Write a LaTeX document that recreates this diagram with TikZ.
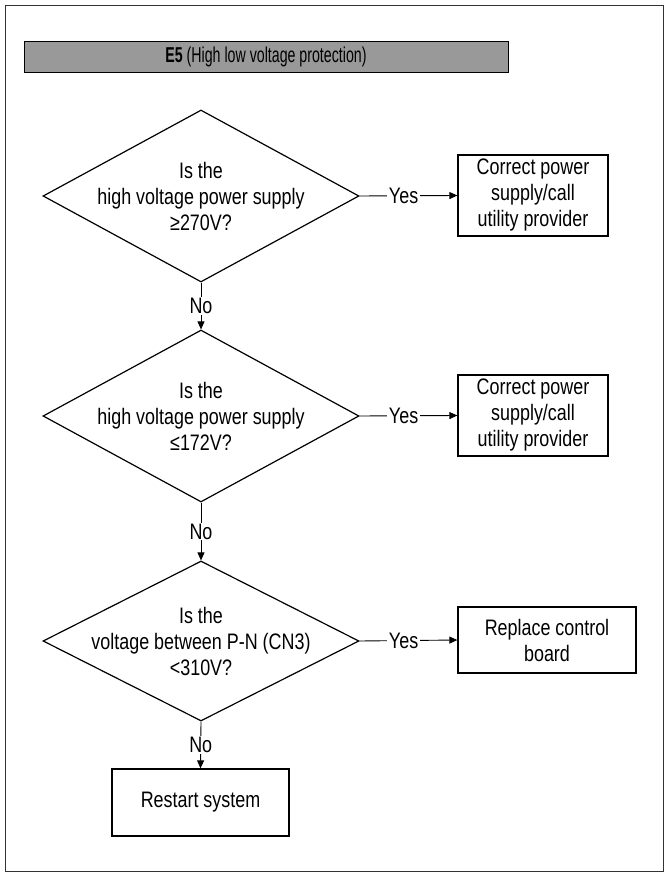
\documentclass[tikz,border=0pt]{standalone}
\usepackage{fontspec}
\setmainfont{Liberation Sans}[FakeStretch=0.8]
\newfontfamily\titlefont{Liberation Sans}[FakeStretch=0.66]
\usetikzlibrary{shapes.geometric,arrows.meta}
\begin{document}
\begin{tikzpicture}[x=1pt,y=-1pt,
  dia/.style={diamond,draw,line width=1.2pt,inner sep=0pt,minimum width=316pt,minimum height=172pt},
  dtext/.style={align=center,font=\fontsize{22.4}{26}\selectfont,inner sep=0pt},
  actbox/.style={draw,line width=1.3pt,align=center,font=\fontsize{22.4}{26}\selectfont,inner sep=0pt},
  lbl/.style={fill=white,font=\fontsize{22.4}{26}\selectfont,inner sep=2pt},
  arr/.style={line width=0.9pt,-{Triangle[length=8pt,width=7pt]}}]
\useasboundingbox (0,0) rectangle (664,877);
\draw[line width=0.8pt,black!80] (5,5) rectangle (663,871);
\node[draw,line width=0.8pt,fill=black!40,minimum width=484pt,minimum height=31pt,inner sep=0pt,font=\titlefont\fontsize{21.5}{24}\selectfont] (title) at (266,56.5) {\textbf{E5} (High low voltage protection)};
% diamonds
\node[dia] (d1) at (201,196) {};
\node[dtext] (t1) at (d1.center) {Is the\\high voltage power supply\\≥270V?};
\node[dia] (d2) at (201,416) {};
\node[dtext] (t2) at (d2.center) {Is the\\high voltage power supply\\≤172V?};
\node[dia,minimum height=160pt] (d3) at (201,641) {};
\node[dtext] (t3) at (d3.center) {Is the\\voltage between P-N (CN3)\\<310V?};
% boxes
\node[actbox,minimum width=150pt,minimum height=81pt] (b1) at (533,195.5) {Correct power\\supply/call\\utility provider};
\node[actbox,minimum width=150pt,minimum height=81pt] (b2) at (533,415.5) {Correct power\\supply/call\\utility provider};
\node[actbox,minimum width=178pt,minimum height=66pt] (b3) at (547,640) {Replace control\\board};
\node[actbox,minimum width=177pt,minimum height=67pt] (b4) at (200.5,802.5) {Restart system};
% connectors
\draw[arr] (d1.east) -- node[lbl,pos=0.45] {Yes} (b1.west);
\draw[arr] (d2.east) -- node[lbl,pos=0.45] {Yes} (b2.west);
\draw[arr] (d3.east) -- node[lbl,pos=0.45] {Yes} (b3.west);
\draw[arr] (d1.south) -- node[lbl,inner sep=1pt] {No} (d2.north);
\draw[arr] (d2.south) -- node[lbl,inner sep=1pt] {No} (d3.north);
\draw[arr] (d3.south) -- node[lbl,inner sep=1pt] {No} (b4.north);
\end{tikzpicture}
\end{document}
